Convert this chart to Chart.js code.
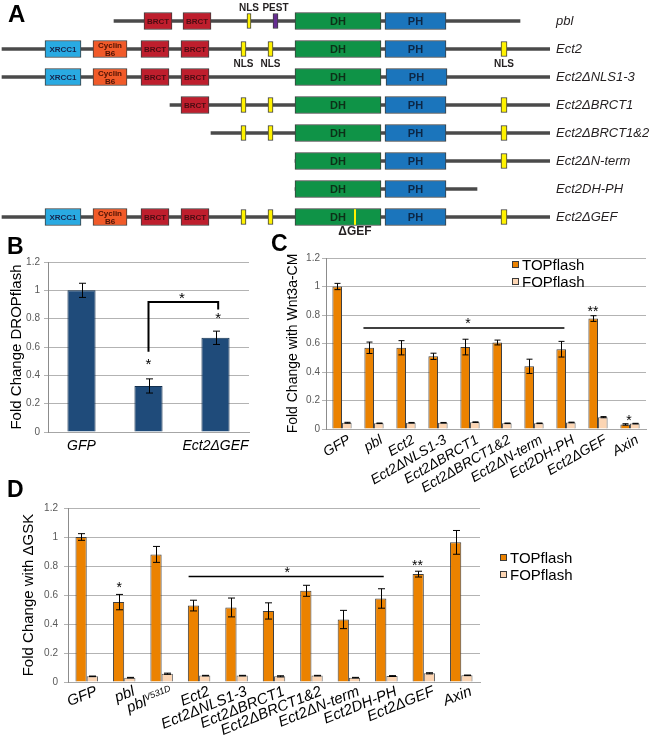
<!DOCTYPE html>
<html>
<head>
<meta charset="utf-8">
<script src="https://cdn.jsdelivr.net/npm/chart.js@4.4.0/dist/chart.umd.min.js"></script>
<style>
  body { margin: 0; background: #fff; }
  #page { position: relative; width: 651px; height: 748px; overflow: hidden; font-family: "Liberation Sans", Arial, sans-serif; }
  canvas { position: absolute; }
  .tag { position: absolute; font-weight: bold; font-size: 23px; line-height: 23px; color: #000; }
</style>
</head>
<body>
<div id="page">
  <canvas id="chartA" width="651" height="240" style="left:0;top:0"></canvas>
  <canvas id="chartB" width="252" height="225" style="left:0;top:240px"></canvas>
  <canvas id="chartC" width="399" height="260" style="left:252px;top:236px"></canvas>
  <canvas id="chartD" width="651" height="258" style="left:0;top:490px"></canvas>
  <div class="tag" style="left:8px;top:2px;font-size:24px">A</div>
  <div class="tag" style="left:7px;top:235px">B</div>
  <div class="tag" style="left:271px;top:232px">C</div>
  <div class="tag" style="left:7px;top:478px">D</div>
</div>
<script>
const FONT = '"Liberation Sans", Arial, sans-serif';

// A: domain maps, start/end along the drawn protein
const constructs = ['pbl', 'Ect2', 'Ect2ΔNLS1-3', 'Ect2ΔBRCT1', 'Ect2ΔBRCT1&2', 'Ect2ΔN-term', 'Ect2DH-PH', 'Ect2ΔGEF'];
const backbone = [[114, 520], [2, 550], [2, 550], [170, 550], [211, 550], [295, 550], [295, 477], [2, 550]];
const xrcc1 = [null, [45, 81], [45, 81], null, null, null, null, [45, 81]];
const cyclinB6 = [null, [93, 127], [93, 127], null, null, null, null, [93, 127]];
const brct1 = [[144, 172], [141, 169], [141, 169], null, null, null, null, [141, 169]];
const brct2 = [[183, 211], [181, 209], [181, 209], [181, 209], null, null, null, [181, 209]];
const nls1 = [[247, 251], [241, 246], null, [241, 246], [241, 246], null, null, [241, 246]];
const nls2 = [null, [268, 273], null, [268, 273], [268, 273], null, null, [268, 273]];
const pest = [[273, 278], null, null, null, null, null, null, null];
const nls3 = [null, [501, 507], null, [501, 507], [501, 507], [501, 507], null, [501, 507]];
const dhDom = [[295, 381], [295, 381], [295, 381], [295, 381], [295, 381], [295, 381], [295, 381], [295, 381]];
const phDom = [[385, 446], [385, 446], [386, 447], [385, 446], [385, 446], [385, 446], [385, 446], [385, 446]];
const gefMut = [null, null, null, null, null, null, null, [354.3, 355.7]];
// labels next to domains: [row, domain key, text, above(-1)/below(1)]
const domainNotes = [[0, 'nls1', 'NLS', -1], [0, 'pest', 'PEST', -1], [1, 'nls1', 'NLS', 1], [1, 'nls2', 'NLS', 1], [1, 'nls3', 'NLS', 1], [7, 'gef', 'ΔGEF', 1]];

// B: DROPflash
const bCats = ['GFP', 'Ect2', 'Ect2ΔGEF'];
const bMeans = [1.0, 0.325, 0.665];
const bErr = [0.05, 0.05, 0.047];
const bLines = [[[1, 0, 0.567], [1, 0, 0.918], [2, 0.04, 0.918], [2, 0.04, 0.865]]];
const bStars = [[1, 0, 0.508, '*'], [1, 0.5, 0.97, '*'], [2, 0.04, 0.83, '*']];

// C: Wnt3a-CM
const cCats = ['GFP', 'pbl', 'Ect2', 'Ect2ΔNLS1-3', 'Ect2ΔBRCT1', 'Ect2ΔBRCT1&2', 'Ect2ΔN-term', 'Ect2DH-PH', 'Ect2ΔGEF', 'Axin'];
const cTop = [1.0, 0.57, 0.57, 0.51, 0.575, 0.607, 0.44, 0.56, 0.775, 0.032];
const cTopErr = [0.022, 0.04, 0.05, 0.022, 0.055, 0.017, 0.05, 0.055, 0.02, 0.005];
const cFop = [0.044, 0.04, 0.044, 0.044, 0.048, 0.04, 0.04, 0.046, 0.083, 0.038];
const cFopErr = [0.003, 0.002, 0.002, 0.002, 0.002, 0.002, 0.002, 0.002, 0.004, 0.002];
const cLines = [[[1, -0.33, 0.708], [7, -0.05, 0.708]]];
const cStars = [[4, -0.06, 0.766, '*'], [8, -0.16, 0.85, '**'], [9, -0.03, 0.084, '*']];

// D: ΔGSK
const dCats = ['GFP', 'pbl', 'pbl', 'Ect2', 'Ect2ΔNLS1-3', 'Ect2ΔBRCT1', 'Ect2ΔBRCT1&2', 'Ect2ΔN-term', 'Ect2DH-PH', 'Ect2ΔGEF', 'Axin'];
const dSuper = ['', '', 'V531D', '', '', '', '', '', '', '', ''];
const dTop = [1.0, 0.551, 0.88, 0.527, 0.514, 0.49, 0.629, 0.431, 0.576, 0.744, 0.963];
const dTopErr = [0.023, 0.053, 0.055, 0.037, 0.065, 0.056, 0.038, 0.063, 0.067, 0.02, 0.082];
const dFop = [0.039, 0.03, 0.057, 0.044, 0.044, 0.039, 0.044, 0.03, 0.041, 0.06, 0.046];
const dFopErr = [0.002, 0.002, 0.004, 0.002, 0.002, 0.004, 0.002, 0.002, 0.003, 0.004, 0.002];
const dLines = [[[3, -0.28, 0.728], [8, -0.07, 0.728]]];
const dStars = [[1, -0.13, 0.677, '*'], [5, 0.35, 0.78, '*'], [9, -0.17, 0.83, '**']];

const TOP_COLOR = '#eb8200';
const FOP_COLOR = '#fcd5b3';

//---------- plugins ----------
function errorBars(cap) {
  return {
    id: 'errorBars',
    afterDatasetsDraw(chart) {
      const ctx = chart.ctx, ys = chart.scales.y;
      ctx.save();
      ctx.strokeStyle = '#000';
      ctx.lineWidth = 1;
      chart.data.datasets.forEach((ds, i) => {
        if (!ds.errors) return;
        chart.getDatasetMeta(i).data.forEach((el, j) => {
          const t = ys.getPixelForValue(ds.data[j] + ds.errors[j]);
          const b = ys.getPixelForValue(ds.data[j] - ds.errors[j]);
          const x = Math.round(el.x) + 0.5;
          ctx.beginPath();
          ctx.moveTo(x, t); ctx.lineTo(x, b);
          ctx.moveTo(x - cap, t); ctx.lineTo(x + cap, t);
          ctx.moveTo(x - cap, b); ctx.lineTo(x + cap, b);
          ctx.stroke();
        });
      });
      ctx.restore();
    }
  };
}

function sigMarks(lines, stars, lineWidth, size) {
  return {
    id: 'sigMarks',
    afterDatasetsDraw(chart) {
      const ctx = chart.ctx, xs = chart.scales.x, ys = chart.scales.y;
      const cw = (xs.right - xs.left) / chart.data.labels.length;
      const px = (c, d) => xs.getPixelForValue(c) + d * cw;
      ctx.save();
      ctx.strokeStyle = '#000';
      ctx.lineWidth = lineWidth;
      lines.forEach((pts) => {
        ctx.beginPath();
        pts.forEach(([c, d, v], k) => {
          const x = px(c, d), y = ys.getPixelForValue(v);
          if (k === 0) ctx.moveTo(x, y); else ctx.lineTo(x, y);
        });
        ctx.stroke();
      });
      ctx.fillStyle = '#000';
      ctx.font = size + 'px ' + FONT;
      ctx.textAlign = 'center';
      ctx.textBaseline = 'alphabetic';
      stars.forEach(([c, d, v, t]) => {
        ctx.fillText(t, px(c, d), ys.getPixelForValue(v) + 0.57 * size);
      });
      ctx.restore();
    }
  };
}

function rotLabels(cats, sup, angle, dx, dy, size) {
  return {
    id: 'rotLabels',
    afterDraw(chart) {
      const ctx = chart.ctx, xs = chart.scales.x, bottom = chart.chartArea.bottom;
      const main = 'italic ' + size + 'px ' + FONT;
      const small = 'italic ' + Math.round(size * 0.62) + 'px ' + FONT;
      cats.forEach((lab, i) => {
        const s = (sup && sup[i]) || '';
        ctx.save();
        ctx.translate(xs.getPixelForValue(i) + dx, bottom + dy);
        ctx.rotate(-angle * Math.PI / 180);
        ctx.fillStyle = '#000';
        ctx.textBaseline = 'top';
        ctx.textAlign = 'left';
        ctx.font = small;
        const ws = s ? ctx.measureText(s).width : 0;
        ctx.font = main;
        const wm = ctx.measureText(lab).width;
        ctx.fillText(lab, -ws - wm, 0);
        if (s) {
          ctx.font = small;
          ctx.fillText(s, -ws, 0);
        }
        ctx.restore();
      });
    }
  };
}

function sideLegend(x, y, gap, size) {
  return {
    id: 'sideLegend',
    afterDraw(chart) {
      const ctx = chart.ctx;
      ctx.save();
      chart.data.datasets.forEach((ds, i) => {
        const cy = y + i * gap;
        ctx.fillStyle = ds.backgroundColor;
        ctx.fillRect(x, cy - 4, 7, 7);
        ctx.strokeStyle = '#3a3a3a';
        ctx.lineWidth = 1;
        ctx.strokeRect(x + 0.5, cy - 3.5, 6, 6);
        ctx.fillStyle = '#000';
        ctx.font = size + 'px ' + FONT;
        ctx.textBaseline = 'middle';
        ctx.textAlign = 'left';
        ctx.fillText(ds.label, x + 10, cy + 1);
      });
      ctx.restore();
    }
  };
}

const boxText = {
  id: 'boxText',
  afterDatasetsDraw(chart) {
    const ctx = chart.ctx;
    ctx.save();
    ctx.textAlign = 'center';
    ctx.textBaseline = 'middle';
    chart.data.datasets.forEach((ds, i) => {
      const meta = chart.getDatasetMeta(i);
      meta.data.forEach((el, j) => {
        if (!ds.boxText || ds.data[j] == null) return;
        const lines = ds.boxText.split('\n');
        const cx = (el.x + el.base) / 2;
        ctx.font = ds.boxFont;
        ctx.fillStyle = ds.boxTextColor;
        lines.forEach((t, k) => ctx.fillText(t, cx, el.y + 0.5 + (k - (lines.length - 1) / 2) * 8));
      });
    });
    // labels beside domains
    domainNotes.forEach(([row, key, text, side]) => {
      const idx = chart.data.datasets.findIndex((d) => d.key === key);
      const el = chart.getDatasetMeta(idx).data[row];
      ctx.font = (key === 'gef' ? 'bold 12px ' : 'bold 10px ') + FONT;
      ctx.fillStyle = '#231f20';
      ctx.fillText(text, (el.x + el.base) / 2, el.y + side * (side < 0 ? 13 : 15));
    });
    ctx.restore();
  }
};

//---------- A ----------
function domain(key, data, color, thickness, text, textColor, font) {
  return {
    key: key, label: key, data: data, backgroundColor: color,
    borderColor: '#3c3c3c', borderWidth: 1, borderSkipped: false,
    barThickness: thickness, grouped: false,
    boxText: text || '', boxTextColor: textColor, boxFont: font
  };
}

new Chart(document.getElementById('chartA'), {
  type: 'bar',
  data: {
    labels: constructs,
    datasets: [
      { key: 'gef', label: 'gef', data: gefMut, backgroundColor: '#fff200', borderWidth: 0, barThickness: 15, grouped: false },
      domain('nls1', nls1, '#fff200', 15),
      domain('nls2', nls2, '#fff200', 15),
      domain('nls3', nls3, '#fff200', 15),
      domain('pest', pest, '#662d91', 15),
      domain('xrcc1', xrcc1, '#29aae2', 17, 'XRCC1', '#16244c', 'bold 8px ' + FONT),
      domain('cyclin', cyclinB6, '#f15a29', 17, 'Cyclin\nB6', '#4d1204', 'bold 8px ' + FONT),
      domain('brct1', brct1, '#be1e2d', 17, 'BRCT', '#4a0c12', 'bold 8px ' + FONT),
      domain('brct2', brct2, '#be1e2d', 17, 'BRCT', '#4a0c12', 'bold 8px ' + FONT),
      domain('dh', dhDom, '#0f9347', 17, 'DH', '#0c3018', 'bold 11px ' + FONT),
      domain('ph', phDom, '#1b75bc', 17, 'PH', '#0c2746', 'bold 11px ' + FONT),
      { key: 'line', label: 'line', data: backbone, backgroundColor: '#4a4a4a', borderWidth: 0, barThickness: 3, grouped: false }
    ]
  },
  options: {
    indexAxis: 'y',
    responsive: false,
    animation: false,
    layout: { padding: { top: 7, bottom: 9, left: 0, right: 0 } },
    plugins: { legend: { display: false }, tooltip: { enabled: false } },
    scales: {
      x: { type: 'linear', min: 0, max: 550, display: false },
      y: {
        position: 'right',
        grid: { display: false, drawTicks: false },
        border: { display: false },
        ticks: { padding: 6, color: '#231f20', font: { family: FONT, size: 13, style: 'italic' } },
        afterFit(s) { s.width = 101; s.paddingTop = 0; s.paddingBottom = 0; }
      }
    }
  },
  plugins: [boxText]
});

//---------- shared axes ----------
function yAxis(title, width, titlePad, tickPad, titleSize) {
  return {
    min: 0, max: 1.2,
    ticks: {
      stepSize: 0.2, padding: tickPad, color: '#595959',
      font: { family: FONT, size: 10 },
      callback: (v) => String(Math.round(v * 10) / 10)
    },
    grid: { color: '#b3b3b3', tickLength: 4, tickColor: '#b3b3b3' },
    border: { color: '#8c8c8c' },
    title: { display: true, text: title, color: '#000', font: { family: FONT, size: titleSize }, padding: { top: titlePad, bottom: 0 } },
    afterFit(s) { s.width = width; s.paddingTop = 0; s.paddingBottom = 0; }
  };
}

function xAxis(height, showTicks) {
  return {
    grid: { display: false, drawTicks: false },
    border: { color: '#a6a6a6' },
    ticks: { display: showTicks, padding: 6, color: '#000', maxRotation: 0, font: { family: FONT, size: 14, style: 'italic' } },
    afterFit(s) { s.height = height; s.paddingLeft = 0; s.paddingRight = 0; }
  };
}

//---------- B ----------
new Chart(document.getElementById('chartB'), {
  type: 'bar',
  data: {
    labels: bCats,
    datasets: [{
      label: 'DROPflash', data: bMeans, errors: bErr,
      backgroundColor: '#1f4b7a', borderColor: '#13304f', borderWidth: 1,
      categoryPercentage: 0.42, barPercentage: 1
    }]
  },
  options: {
    responsive: false,
    animation: false,
    layout: { padding: { top: 22, right: 3, left: 0, bottom: 0 } },
    plugins: { legend: { display: false }, tooltip: { enabled: false } },
    scales: { x: xAxis(33, true), y: yAxis('Fold Change DROPflash', 48, 8, 4, 15) }
  },
  plugins: [errorBars(3.5), sigMarks(bLines, bStars, 2, 15)]
});

//---------- C ----------
function pairDatasets(top, topErr, fop, fopErr) {
  return [
    { label: 'TOPflash', data: top, errors: topErr, backgroundColor: TOP_COLOR, borderColor: '#3f3f3f', borderWidth: 1, categoryPercentage: 0.6, barPercentage: 1 },
    { label: 'FOPflash', data: fop, errors: fopErr, backgroundColor: FOP_COLOR, borderColor: '#5a5a5a', borderWidth: 1, categoryPercentage: 0.6, barPercentage: 1 }
  ];
}

new Chart(document.getElementById('chartC'), {
  type: 'bar',
  data: { labels: cCats, datasets: pairDatasets(cTop, cTopErr, cFop, cFopErr) },
  options: {
    responsive: false,
    animation: false,
    layout: { padding: { top: 22, right: 5, left: 0, bottom: 0 } },
    plugins: { legend: { display: false }, tooltip: { enabled: false } },
    scales: { x: xAxis(67, false), y: yAxis('Fold Change with Wnt3a-CM', 74, 33, 2, 14) }
  },
  plugins: [errorBars(3), sigMarks(cLines, cStars, 1.5, 14), rotLabels(cCats, null, 30, 4, 4, 14), sideLegend(260, 29, 17, 15)]
});

//---------- D ----------
new Chart(document.getElementById('chartD'), {
  type: 'bar',
  data: { labels: dCats, datasets: pairDatasets(dTop, dTopErr, dFop, dFopErr) },
  options: {
    responsive: false,
    animation: false,
    layout: { padding: { top: 18, right: 171, left: 0, bottom: 0 } },
    plugins: { legend: { display: false }, tooltip: { enabled: false } },
    scales: { x: xAxis(66, false), y: yAxis('Fold Change with ΔGSK', 68, 20, 6, 15) }
  },
  plugins: [errorBars(3.5), sigMarks(dLines, dStars, 1.5, 14), rotLabels(dCats, dSuper, 22, 7, 2, 15), sideLegend(500, 68, 17, 15)]
});
</script>
</body>
</html>
